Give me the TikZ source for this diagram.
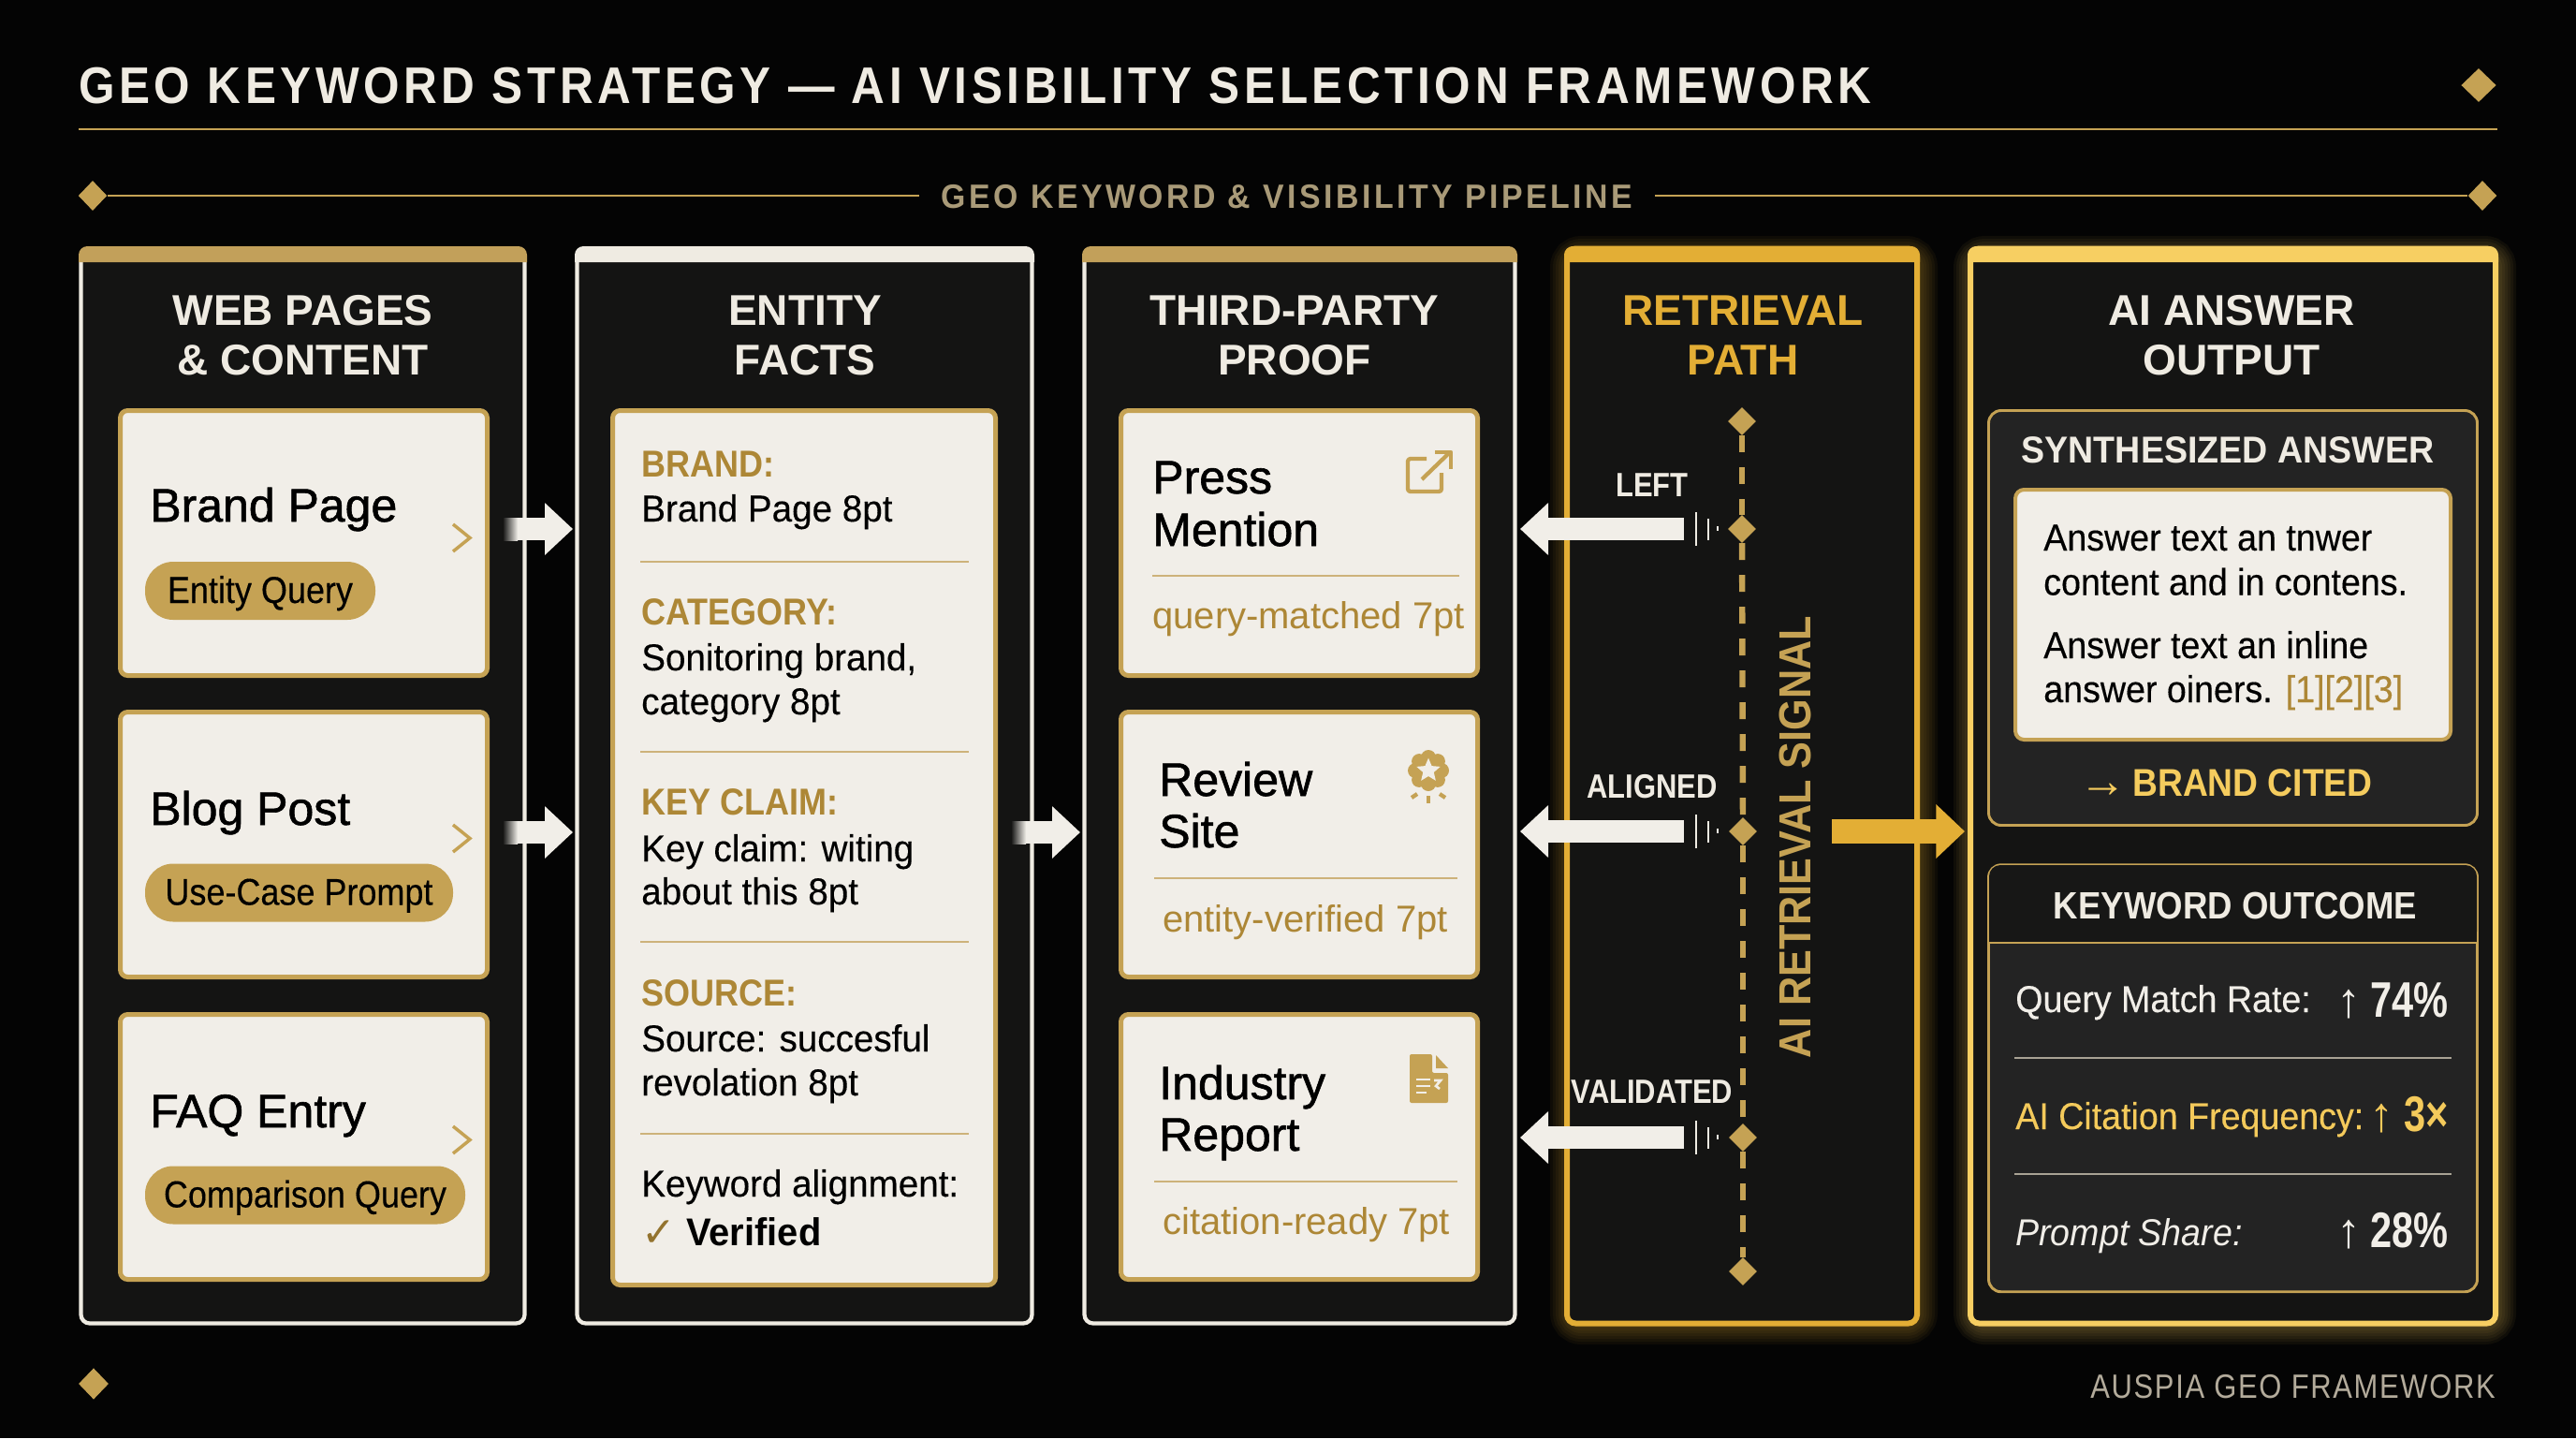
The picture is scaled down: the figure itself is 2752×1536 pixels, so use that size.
\documentclass[tikz,border=0pt]{standalone}
\usepackage{fontspec}
\setmainfont{Liberation Sans}
\newfontfamily\medfont{Liberation Sans}[FakeBold=1.2]
\newfontfamily\factfont{Liberation Sans}[FakeStretch=0.965,UprightFeatures={FakeBold=0.25}]
\newfontfamily\condfont{Liberation Sans}[FakeStretch=0.94,UprightFeatures={FakeBold=0.25}]
\newfontfamily\pillfont{Liberation Sans}[FakeStretch=0.90,UprightFeatures={FakeBold=0.25}]
\newfontfamily\narrowfont{Liberation Sans}[FakeStretch=0.86]
\newfontfamily\statfont{Liberation Sans}[FakeStretch=0.78]
\newfontfamily\symbolfont{DejaVu Sans}
\usetikzlibrary{arrows.meta,shapes.geometric}

\definecolor{bgblack}{HTML}{040404}
\definecolor{panelblack}{HTML}{141413}
\definecolor{boxgrey}{HTML}{232323}
\definecolor{headgrey}{HTML}{171716}
\definecolor{cream}{HTML}{F1EEE8}
\definecolor{frameline}{HTML}{EFEBE2}
\definecolor{softgold}{HTML}{C5A254}
\definecolor{bargold}{HTML}{C2A05A}
\definecolor{amber}{HTML}{E3AE35}
\definecolor{brightgold}{HTML}{F7CF62}
\definecolor{deepgold}{HTML}{AD8736}
\definecolor{sepgold}{HTML}{CDB27A}
\definecolor{pipegold}{HTML}{A99A78}
\definecolor{footgrey}{HTML}{B3AB9B}
\definecolor{sepgrey}{HTML}{A8A294}

\tikzset{
	boxsize/.style 2 args={minimum width=#1*0.75pt,minimum height=#2*0.75pt},
	colframe/.style={draw=frameline,fill=panelblack,line width=3.2pt,rounded corners=7pt,inner sep=0pt},
	retrframe/.style={colframe,draw=amber,line width=4.5pt},
	answerframe/.style={colframe,draw=brightgold,line width=4.5pt},
	cardbox/.style={draw=softgold,fill=cream,line width=3.75pt,rounded corners=6pt,inner sep=0pt},
	darkbox/.style={draw=softgold,fill=boxgrey,line width=2.2pt,rounded corners=10pt,inner sep=0pt},
	answercard/.style={draw=softgold,fill=cream,line width=3pt,rounded corners=7pt,inner sep=0pt},
	pilltag/.style={fill=softgold,rounded corners=22.5pt,inner sep=0pt,text height=24pt,text depth=4.5pt,
		font=\pillfont\fontsize{30pt}{36pt}\selectfont,text=black},
	coltitle/.style={anchor=base,inner sep=0pt,align=center,text=frameline,
		font=\bfseries\fontsize{34.5pt}{39.75pt}\selectfont},
	cardtitle/.style={anchor=base west,inner sep=0pt,align=left,text=black,
		font=\medfont\fontsize{37.5pt}{42pt}\selectfont},
	factlabel/.style={anchor=base west,inner sep=0pt,text=deepgold,font=\pillfont\bfseries\fontsize{30pt}{36pt}\selectfont},
	facttext/.style={anchor=base west,inner sep=0pt,text=black,font=\factfont\fontsize{30pt}{36pt}\selectfont},
	prooftext/.style={anchor=base west,inner sep=0pt,text=deepgold,font=\fontsize{30pt}{36pt}\selectfont},
	signallabel/.style={anchor=base,inner sep=0pt,text=frameline,font=\narrowfont\bfseries\fontsize{27pt}{32pt}\selectfont},
	boxhead/.style={anchor=base,inner sep=0pt,text=frameline,font=\condfont\bfseries\fontsize{30pt}{36pt}\selectfont},
	answertext/.style={anchor=base west,inner sep=0pt,text=black,font=\condfont\fontsize{30pt}{36pt}\selectfont},
	statlabel/.style={anchor=base west,inner sep=0pt,text=cream,font=\condfont\fontsize{30pt}{36pt}\selectfont},
	statarrow/.style={anchor=base,inner sep=0pt,text=cream,font=\fontsize{39pt}{44pt}\selectfont},
	statvalue/.style={anchor=base east,inner sep=0pt,text=cream,font=\statfont\bfseries\fontsize{40pt}{44pt}\selectfont},
	goldmark/.style={shape=diamond,fill=softgold,inner sep=0pt,minimum width=22.5pt,minimum height=22.5pt},
	sepline/.style={draw=sepgold,line width=1.5pt},
	pathdash/.style={draw=softgold,line width=4.8pt,dash pattern=on 13.5pt off 12pt},
	tickline/.style={draw=frameline,line width=2.2pt},
	chevronmark/.style={draw=softgold,line width=2.6pt},
	iconline/.style={draw=softgold,line width=3.2pt,line join=round},
	glowline/.style={draw=#1,opacity=0.05,rounded corners=10pt},
	flowarrow/.style={draw=cream,line width=18pt,-{Triangle[length=22.5pt,width=40.5pt]},color=cream},
	signalarrow/.style={draw=amber,line width=20pt,-{Triangle[length=23pt,width=42pt]},color=amber},
}

\newcommand{\colbar}[4]{\fill[#4] (#1,#3) [rounded corners=7pt] -- (#1,263) -- (#2,263) [sharp corners] -- (#2,#3) -- cycle;}

\begin{document}
\begin{tikzpicture}[x=0.75pt,y=0.75pt,yscale=-1,xscale=1]
	%Background
	\fill[bgblack] (0,0) rectangle (2752,1536);
	\useasboundingbox (0,0) rectangle (2752,1536);
	
	% Title
	\draw (84,110) node [anchor=base west,inner sep=0pt,text=frameline,font=\pillfont\bfseries\fontsize{41.25pt}{48pt}\selectfont\addfontfeature{LetterSpace=8.3}] (maintitle) {GEO KEYWORD STRATEGY — AI VISIBILITY SELECTION FRAMEWORK};
	\draw (2648,91) node [goldmark,minimum width=28pt,minimum height=27pt] (titlemark) {};
	\draw[softgold,line width=1.9pt] (84,138) -- (2668,138);
	
	% Pipeline rule
	\draw (99,209) node [goldmark,minimum width=23pt,minimum height=24pt] (pipeleft) {};
	\draw (2652,209) node [goldmark,minimum width=23pt,minimum height=24pt] (piperight) {};
	\draw (1375,222) node [anchor=base,inner sep=0pt,text=pipegold,font=\condfont\bfseries\fontsize{27pt}{32pt}\selectfont\addfontfeature{LetterSpace=9.8}] (pipetitle) {GEO KEYWORD \& VISIBILITY PIPELINE};
	\coordinate (pipegapa) at (982,209);
	\coordinate (pipegapb) at (1768,209);
	\draw[softgold,line width=1.9pt] (pipeleft) -- (pipegapa);
	\draw[softgold,line width=1.9pt] (pipegapb) -- (piperight);
	
	% Glow behind the two gold columns
	\foreach \w in {4,10,16,22,28,34,40}{
		\draw[glowline=amber,line width=\w*0.75pt] (1676,272) rectangle (2050,1416);
		\draw[glowline=brightgold,line width=\w*0.75pt] (2107,272) rectangle (2668,1416);
	}
	
	% Columns
	\draw (323.5,839.5) node [colframe,boxsize={474}{1148}] (webcol) {};
	\draw (859.5,839.5) node [colframe,boxsize={486}{1148}] (entitycol) {};
	\draw (1388.5,839.5) node [colframe,boxsize={460}{1148}] (proofcol) {};
	\draw (1861,839.5) node [retrframe,boxsize={374}{1148}] (retrcol) {};
	\draw (2385.5,839.5) node [answerframe,boxsize={561}{1148}] (answercol) {};
	\colbar{84}{563}{280}{bargold}
	\colbar{614}{1105}{280}{frameline}
	\colbar{1156}{1621}{280}{bargold}
	\colbar{1671}{2051}{280}{amber}
	\colbar{2102}{2669}{280}{brightgold}
	
	% Column titles
	\draw (323.5,347) node [coltitle] (webtitle) {WEB PAGES};
	\draw (323.5,400) node [coltitle] (webtitleb) {\& CONTENT};
	\draw (860,347) node [coltitle] (entitytitle) {ENTITY};
	\draw (860,400) node [coltitle] (entitytitleb) {FACTS};
	\draw (1383,347) node [coltitle] (prooftitle) {THIRD-PARTY};
	\draw (1383,400) node [coltitle] (prooftitleb) {PROOF};
	\draw (1862,347) node [coltitle,text=amber] (retrtitle) {RETRIEVAL};
	\draw (1862,400) node [coltitle,text=amber] (retrtitleb) {PATH};
	\draw (2384,347) node [coltitle] (answertitle) {AI ANSWER};
	\draw (2384,400) node [coltitle] (answertitleb) {OUTPUT};
	
	% Web page cards
	\draw (324.5,580) node [cardbox,boxsize={392}{283}] (brandcard) {};
	\draw (324.5,902) node [cardbox,boxsize={392}{283}] (blogcard) {};
	\draw (324.5,1225) node [cardbox,boxsize={392}{283}] (faqcard) {};
	\draw (160,557) node [cardtitle] (brandtitle) {Brand Page};
	\draw (160,881) node [cardtitle] (blogtitle) {Blog Post};
	\draw (160,1204) node [cardtitle] (faqtitle) {FAQ Entry};
	\draw (278,631) node [pilltag,boxsize={246}{62}] (brandpill) {Entity Query};
	\draw (319.5,953.5) node [pilltag,boxsize={329}{62}] (blogpill) {Use-Case Prompt};
	\draw (326,1276.5) node [pilltag,boxsize={342}{62}] (faqpill) {Comparison Query};
	\draw[chevronmark] (484,560) -- (502,574.5) -- (484,589);
	\draw[chevronmark] (484,881) -- (502,895.5) -- (484,910);
	\draw[chevronmark] (484,1203) -- (502,1217.5) -- (484,1232);
	
	% Entity card
	\draw (859,905.5) node [cardbox,boxsize={409}{934}] (factcard) {};
	\draw (685,509) node [factlabel] (brandlabel) {BRAND:};
	\draw (685,557) node [facttext] (brandfact) {Brand Page 8pt};
	\draw[sepline] (684,600) -- (1035,600);
	\draw (685,667) node [factlabel] (categorylabel) {CATEGORY:};
	\draw (685,716) node [facttext] (categoryfact) {Sonitoring brand,};
	\draw (685,763) node [facttext] (categoryfactb) {category 8pt};
	\draw[sepline] (684,803) -- (1035,803);
	\draw (685,870) node [factlabel] (claimlabel) {KEY CLAIM:};
	\draw (685,920) node [facttext] (claimfact) {Key claim: witing};
	\draw (685,966) node [facttext] (claimfactb) {about this 8pt};
	\draw[sepline] (684,1006) -- (1035,1006);
	\draw (685,1074) node [factlabel] (sourcelabel) {SOURCE:};
	\draw (685,1123) node [facttext] (sourcefact) {Source: succesful};
	\draw (685,1170) node [facttext] (sourcefactb) {revolation 8pt};
	\draw[sepline] (684,1211) -- (1035,1211);
	\draw (685,1278) node [facttext] (alignlabel) {Keyword alignment:};
	\draw (685,1331) node [facttext,font=\symbolfont\bfseries\fontsize{33pt}{36pt}\selectfont,text=deepgold!85!black] (checkmark) {✓};
	\draw (733,1330) node [facttext,font=\factfont\bfseries\fontsize{31pt}{36pt}\selectfont] (verifiedtext) {Verified};
	
	% Proof cards
	\draw (1388,580) node [cardbox,boxsize={381}{283}] (presscard) {};
	\draw (1388,902) node [cardbox,boxsize={381}{283}] (reviewcard) {};
	\draw (1388,1225) node [cardbox,boxsize={381}{283}] (industrycard) {};
	\draw (1231,527) node [cardtitle] (presstitle) {Press};
	\draw (1231,583) node [cardtitle] (presstitleb) {Mention};
	\draw (1238,850) node [cardtitle] (reviewtitle) {Review};
	\draw (1238,905) node [cardtitle] (reviewtitleb) {Site};
	\draw (1238,1174) node [cardtitle] (industrytitle) {Industry};
	\draw (1238,1229) node [cardtitle] (industrytitleb) {Report};
	\draw[sepline] (1231,615) -- (1559,615);
	\draw[sepline] (1233,938) -- (1557,938);
	\draw[sepline] (1233,1262) -- (1557,1262);
	\draw (1231,671) node [prooftext] (presstag) {query-matched 7pt};
	\draw (1242,995) node [prooftext] (reviewtag) {entity-verified 7pt};
	\draw (1242,1318) node [prooftext] (industrytag) {citation-ready 7pt};
	
	%Shape: link icon
	\draw[iconline,rounded corners=2pt] (1524,490) -- (1504,490) -- (1504,525) -- (1540,525) -- (1540,505);
	\draw[iconline] (1519,512) -- (1549,483);
	\draw[iconline] (1533,483) -- (1550,483) -- (1550,501);
	%Shape: badge icon
	\fill[softgold] (1526,823) circle (18);
	\foreach \a in {0,45,...,315}{
		\fill[softgold] (1526,823) ++(\a:14) circle (8);
	}
	\draw (1526,823) node [shape=star,star points=5,star point ratio=2.2,fill=cream,inner sep=0pt,minimum size=20pt] (badgestar) {};
	\draw[iconline] (1508,852) -- (1514,848);
	\draw[iconline] (1526,850) -- (1526,858);
	\draw[iconline] (1538,848) -- (1544,852);
	%Shape: report icon
	\fill[softgold,rounded corners=1.5pt] (1506,1126) -- (1530,1126) -- (1530,1146) -- (1547,1146) -- (1547,1178) -- (1506,1178) -- cycle;
	\fill[softgold] (1534,1127) -- (1547,1141) -- (1534,1141) -- cycle;
	\draw[cream,line width=1.6pt] (1513,1153) -- (1528,1153);
	\draw[cream,line width=1.6pt] (1513,1160) -- (1528,1160);
	\draw[cream,line width=1.6pt] (1513,1167) -- (1524,1167);
	\draw[cream,line width=2pt] (1532,1154) -- (1539,1154) -- (1534,1160) -- (1538,1163);
	
	% Retrieval path
	\draw (1861,450) node [goldmark] (pathtop) {};
	\draw (1861,565) node [goldmark] (leftmark) {};
	\draw (1862,888) node [goldmark] (alignedmark) {};
	\draw (1862,1215) node [goldmark] (validatedmark) {};
	\draw (1862,1358) node [goldmark] (pathend) {};
	\draw[pathdash] (pathtop) -- (leftmark);
	\draw[pathdash] (leftmark) -- (alignedmark);
	\draw[pathdash] (alignedmark) -- (validatedmark);
	\draw[pathdash] (validatedmark) -- (pathend);
	\draw (1934,894) node [anchor=base,rotate=90,inner sep=0pt,text=softgold,font=\pillfont\bfseries\fontsize{36pt}{40pt}\selectfont] (signaltitle) {AI RETRIEVAL SIGNAL};
	\draw (1765,530) node [signallabel] (leftlabel) {LEFT};
	\draw (1765,852) node [signallabel] (alignedlabel) {ALIGNED};
	\draw (1765,1178) node [signallabel] (validatedlabel) {VALIDATED};
	
	% Ticks beside the marks
	\foreach \y in {565,888,1215}{
		\draw[tickline] (1812,\y-18) -- (1812,\y+18);
		\draw[tickline] (1825,\y-11) -- (1825,\y+12);
		\draw[tickline,line width=1.6pt] (1835,\y-3) -- (1835,\y+2);
	}
	
	% Arrows
	\coordinate (pressfrom) at (1799,565);
	\coordinate (pressto) at (1624,565);
	\coordinate (reviewfrom) at (1799,888);
	\coordinate (reviewto) at (1624,888);
	\coordinate (industryfrom) at (1799,1215);
	\coordinate (industryto) at (1624,1215);
	\draw[flowarrow] (pressfrom) -- (pressto);
	\draw[flowarrow] (reviewfrom) -- (reviewto);
	\draw[flowarrow] (industryfrom) -- (industryto);
	
	\coordinate (brandfrom) at (537,565);
	\coordinate (brandto) at (612,565);
	\coordinate (blogfrom) at (537,889);
	\coordinate (blogto) at (612,889);
	\coordinate (factfrom) at (1080,889);
	\coordinate (factto) at (1154,889);
	\draw[flowarrow] (brandfrom) -- (brandto);
	\draw[flowarrow] (blogfrom) -- (blogto);
	\draw[flowarrow] (factfrom) -- (factto);
	\shade[left color=panelblack,right color=cream] (537,553) rectangle (553,577);
	\shade[left color=panelblack,right color=cream] (537,877) rectangle (553,901);
	\shade[left color=panelblack,right color=cream] (1080,877) rectangle (1096,901);
	
	\coordinate (signalfrom) at (1957,888);
	\coordinate (signalto) at (2099,888);
	\draw[signalarrow] (signalfrom) -- (signalto);
	
	% Synthesized answer box
	\draw (2385.5,660) node [darkbox,boxsize={522}{443}] (synthbox) {};
	\draw (2380,494.5) node [boxhead] (synthtitle) {SYNTHESIZED ANSWER};
	\draw (2385.5,656.5) node [answercard,boxsize={465}{267}] (synthcard) {};
	\draw (2183,588) node [answertext] (answerlinea) {Answer text an tnwer};
	\draw (2183,635.5) node [answertext] (answerlineb) {content and in contens.};
	\draw (2183,703) node [answertext] (answerlinec) {Answer text an inline};
	\draw (2183,750) node [answertext] (answerlined) {answer oiners. \textcolor{deepgold}{[1][2][3]}};
	\draw (2247,851) node [anchor=base,inner sep=0pt,text=brightgold!92!amber,font=\fontsize{38pt}{42pt}\selectfont] (citedarrow) {→};
	\draw (2278,850) node [boxhead,anchor=base west,text=brightgold!92!amber,font=\pillfont\bfseries\fontsize{31pt}{36pt}\selectfont] (brandcited) {BRAND CITED};
	
	% Keyword outcome box
	\draw (2385.5,1151.75) node [darkbox,boxsize={522}{456}] (outcomebox) {};
	\fill[headgrey,rounded corners=9pt] (2125,1007) -- (2125,924) -- (2646,924) -- (2646,1007) [sharp corners] -- cycle;
	\fill[headgrey] (2125,990) rectangle (2646,1007);
	\draw[softgold,line width=2.2pt] (2123,1007) -- (2648,1007);
	\draw (2388,981) node [boxhead,font=\pillfont\bfseries\fontsize{30.5pt}{36pt}\selectfont] (outcometitle) {KEYWORD OUTCOME};
	\draw (2153,1081) node [statlabel] (querylabel) {Query Match Rate:};
	\draw (2509,1086) node [statarrow] (queryarrow) {↑};
	\draw (2616,1086) node [statvalue] (queryvalue) {74\%};
	\draw[sepgrey,line width=1.5pt] (2152,1130) -- (2619,1130);
	\draw (2153,1206) node [statlabel,text=brightgold!85!amber] (citelabel) {AI Citation Frequency:};
	\draw (2544,1208) node [statarrow,text=brightgold!85!amber] (citearrow) {↑};
	\draw (2616,1208) node [statvalue,text=brightgold!85!amber] (citevalue) {3×};
	\draw[sepgrey,line width=1.5pt] (2152,1254) -- (2619,1254);
	\draw (2153,1330) node [statlabel,font=\condfont\itshape\fontsize{30pt}{36pt}\selectfont] (promptlabel) {Prompt Share:};
	\draw (2509,1332) node [statarrow] (promptarrow) {↑};
	\draw (2616,1332) node [statvalue] (promptvalue) {28\%};
	
	% Footer
	\draw (100,1478) node [goldmark,minimum width=24pt,minimum height=25pt] (footmark) {};
	\draw (2666,1493) node [anchor=base east,inner sep=0pt,text=footgrey,font=\narrowfont\fontsize{27pt}{32pt}\selectfont\addfontfeature{LetterSpace=4.6}] (footertext) {AUSPIA GEO FRAMEWORK};
\end{tikzpicture}
\end{document}
